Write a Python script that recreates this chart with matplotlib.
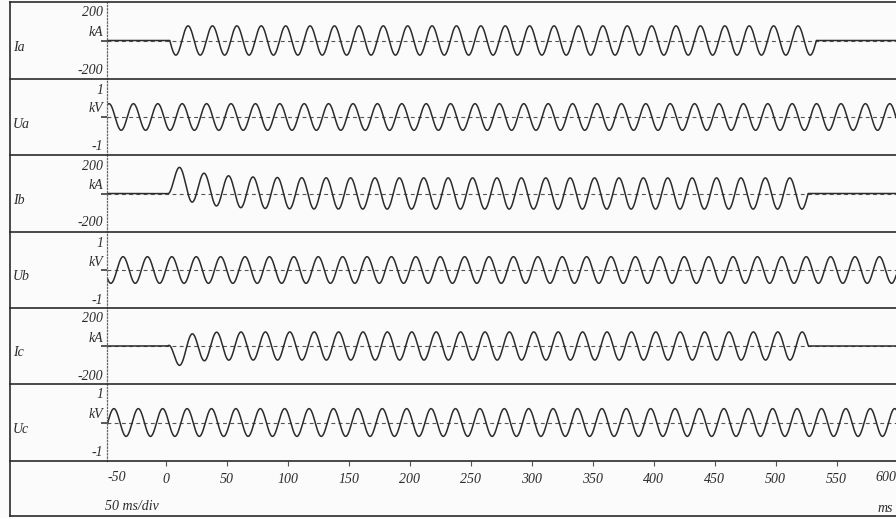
import numpy as np
import matplotlib.pyplot as plt
from matplotlib.lines import Line2D

# panels, top to bottom
channels = ['Ia', 'Ua', 'Ib', 'Ub', 'Ic', 'Uc']
units = ['kA', 'kV', 'kA', 'kV', 'kA', 'kV']
range_top = ['200', '1', '200', '1', '200', '1']
range_bot = ['-200', '-1', '-200', '-1', '-200', '-1']
full_scale = [200, 1, 200, 1, 200, 1]

f_hz = 50  # one cycle every 20 ms

# phase voltages (kV): crest value and time of a crest (ms)
u_peak = [0.35, 0.35, 0.36]
u_crest_ms = [13.5, 5.0, 17.5]

# phase currents (kA): fault on/off (ms), ac peak, inception angle (deg), dc decay (ms)
i_on_ms = [3.3, 1.5, 1.7]
i_off_ms = [533.3, 526.5, 526.7]
i_peak = [76, 81, 74]
i_angle_deg = [180, -90, 90]
i_tau_ms = [25, 25, 10]

x_ticks = [0, 50, 100, 150, 200, 250, 300, 350, 400, 450, 500, 550]
x_edge_labels = ['-50', '600']

t = np.arange(-48, 599, 0.05)
w = 2 * np.pi * f_hz / 1000.0


def voltage(k):
    return u_peak[k] * np.cos(w * (t - u_crest_ms[k]))


def current(k):
    tp = t - i_on_ms[k]
    a = np.deg2rad(i_angle_deg[k])
    y = i_peak[k] * (np.sin(w * tp + a) - np.sin(a) * np.exp(-tp / i_tau_ms[k]))
    y[(t < i_on_ms[k]) | (t > i_off_ms[k])] = 0
    return y


W, H = 896, 518
edges = [2, 79, 155, 232, 308, 384, 461]
x0 = 107.3
ink = '#2b2b2b'
font = dict(family='Liberation Serif', style='italic', color=ink)

fig = plt.figure(figsize=(W / 100, H / 100), dpi=100)
fig.patch.set_facecolor('#fbfbfb')

traces = [current(0), voltage(0), current(1), voltage(1), current(2), voltage(2)]

axes = []
for i, name in enumerate(channels):
    top, bot = edges[i], edges[i + 1]
    ax = fig.add_axes([x0 / W, 1 - bot / H, 1 - x0 / W, (bot - top) / H])
    ax.set_facecolor('none')
    ax.set_xlim(-47.9, 598.6)
    ax.set_ylim(-full_scale[i], full_scale[i])
    ax.axhline(0, color='#555555', lw=0.8, ls=(0, (3.5, 3)), zorder=1)
    ax.plot(t, traces[i], color=ink, lw=1.1, zorder=2)
    for s in ['top', 'bottom', 'right']:
        ax.spines[s].set_visible(False)
    ax.spines['left'].set_linestyle(':')
    ax.spines['left'].set_color('#666666')
    ax.spines['left'].set_linewidth(0.9)
    ax.set_yticks([0])
    ax.set_yticklabels([])
    ax.tick_params(axis='y', length=4.5, width=1.1, color=ink)
    ax.set_xticks([])

    fig.text(13 / W, 1 - (top + (bot - top) / 2 + 7) / H, name, fontsize=10,
             ha='left', va='center', **font)
    fig.text(103 / W, 1 - (top + 11) / H, range_top[i], fontsize=10,
             ha='right', va='center', **font)
    fig.text(103 / W, 1 - (top + 30) / H, units[i], fontsize=10,
             ha='right', va='center', **font)
    fig.text(103 / W, 1 - (top + 68) / H, range_bot[i], fontsize=10,
             ha='right', va='center', **font)
    axes.append(ax)

# time axis under the last panel
ax = axes[-1]
ax.set_xticks(x_ticks)
ax.set_xticklabels([str(v) for v in x_ticks], fontsize=10, **font)
ax.tick_params(axis='x', direction='out', length=3.8, width=0.8,
               color='#555555', pad=5)
ax.text(0.0, -0.22, x_edge_labels[0], transform=ax.transAxes, fontsize=10,
        ha='left', va='center', **font)
ax.text(1.0, -0.22, x_edge_labels[1], transform=ax.transAxes, fontsize=10,
        ha='right', va='center', **font)

fig.text(105 / W, 1 - 507 / H, '50 ms/div', fontsize=10, ha='left',
         va='center', **font)
fig.text(893 / W, 1 - 508 / H, 'ms', fontsize=10, ha='right',
         va='center', **font)

# frame and panel separators
for y in edges + [516]:
    fig.add_artist(Line2D([10 / W, 1], [1 - y / H, 1 - y / H], color=ink, lw=1.2))
fig.add_artist(Line2D([10 / W, 10 / W], [1 - 2 / H, 1 - 516 / H], color=ink, lw=1.2))

fig.savefig('out.png', dpi=100, facecolor=fig.get_facecolor())
